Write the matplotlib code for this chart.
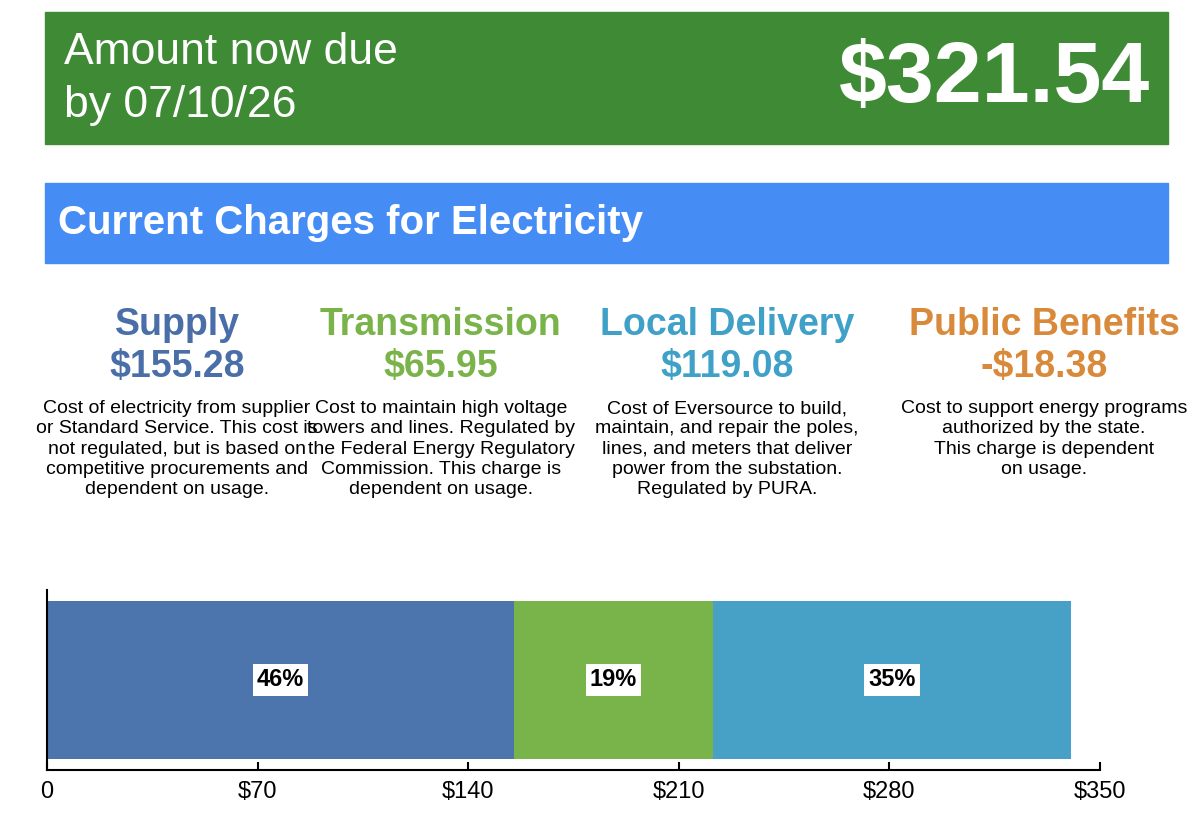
import matplotlib.pyplot as plt
from matplotlib.patches import Rectangle

plt.rcParams['font.family'] = ['Liberation Sans Narrow', 'Liberation Sans', 'DejaVu Sans']

# data
categories = ['Supply', 'Transmission', 'Local Delivery', 'Public Benefits']
amounts = [155.28, 65.95, 119.08, -18.38]
amount_labels = ['$155.28', '$65.95', '$119.08', '-$18.38']
colors = ['#4d75ad', '#78b449', '#47a1c7', '#d98a3b']
head_colors = ['#4a6fa8', '#79b34a', '#3fa0c8', '#d9893a']
descriptions = [
    'Cost of electricity from supplier\nor Standard Service. This cost is\nnot regulated, but is based on\ncompetitive procurements and\ndependent on usage.',
    'Cost to maintain high voltage\ntowers and lines. Regulated by\nthe Federal Energy Regulatory\nCommission. This charge is\ndependent on usage.',
    'Cost of Eversource to build,\nmaintain, and repair the poles,\nlines, and meters that deliver\npower from the substation.\nRegulated by PURA.',
    'Cost to support energy programs\nauthorized by the state.\nThis charge is dependent\non usage.',
]
bar_values = amounts[:3]
pct_labels = ['46%', '19%', '35%']
ticks = [0, 70, 140, 210, 280, 350]
tick_labels = ['0', '$70', '$140', '$210', '$280', '$350']
total = '$321.54'
due_date = '07/10/26'

W, H = 1200, 814
fig = plt.figure(figsize=(12, 8.14), dpi=100)

def fx(px):
    return px / W

def fy(py):
    return 1 - py / H

# banners
fig.patches.append(Rectangle((fx(45), fy(144)), fx(1123), 132 / H, transform=fig.transFigure,
                             color='#3f8a35', zorder=0))
fig.text(fx(64), fy(52), 'Amount now due', fontsize=32, color='white', va='center')
fig.text(fx(64), fy(106), 'by ' + due_date, fontsize=32, color='white', va='center')
fig.text(fx(1150), fy(80), total, fontsize=62, color='white', fontweight='bold', ha='right', va='center')

fig.patches.append(Rectangle((fx(45), fy(263)), fx(1123), 80 / H, transform=fig.transFigure,
                             color='#468cf5', zorder=0))
fig.text(fx(58), fy(223), 'Current Charges for Electricity', fontsize=29, color='white',
         fontweight='bold', va='center')

# columns
centers = [177, 441, 727, 1044]
for c, name, amt, hc, desc in zip(centers, categories, amount_labels, head_colors, descriptions):
    fig.text(fx(c), fy(325), name, fontsize=27, color=hc, fontweight='bold', ha='center', va='center')
    fig.text(fx(c), fy(367), amt, fontsize=27, color=hc, fontweight='bold', ha='center', va='center')
    fig.text(fx(c), fy(400), desc, fontsize=14, color='black', ha='center', va='top', linespacing=1.25)

# bar
ax = fig.add_axes([fx(47), fy(770), fx(1100 - 47), 180 / H])
left = 0
for v, col, p in zip(bar_values, colors[:3], pct_labels):
    ax.barh(0, v, left=left, height=0.88, color=col)
    ax.text(left + v / 2, 0, p, fontsize=17, fontweight='bold', ha='center', va='center',
            bbox=dict(facecolor='white', edgecolor='none', pad=3))
    left += v
ax.set_xlim(0, 350)
ax.set_ylim(-0.5, 0.5)
ax.set_yticks([])
ax.set_xticks(ticks)
ax.set_xticklabels(tick_labels, fontsize=17)
ax.tick_params(axis='x', length=6, width=1.5, direction='in', pad=8)
for s in ['top', 'right']:
    ax.spines[s].set_visible(False)
ax.spines['left'].set_linewidth(1.5)
ax.spines['bottom'].set_linewidth(1.5)

fig.savefig('out.png', dpi=100)
